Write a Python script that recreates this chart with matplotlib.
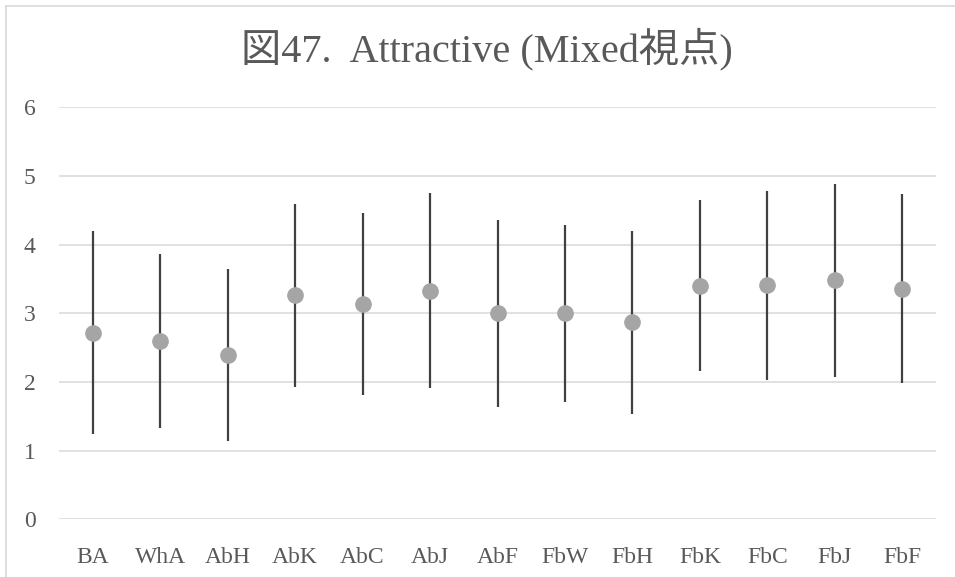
import matplotlib
matplotlib.use("Agg")
import matplotlib.pyplot as plt
from matplotlib.lines import Line2D

plt.rcParams['font.family'] = ['Liberation Serif', 'Noto Sans CJK JP', 'DejaVu Sans']

categories = ["BA", "WhA", "AbH", "AbK", "AbC", "AbJ", "AbF",
              "FbW", "FbH", "FbK", "FbC", "FbJ", "FbF"]
means = [2.72, 2.60, 2.39, 3.26, 3.13, 3.33, 3.00,
         3.00, 2.87, 3.40, 3.41, 3.48, 3.36]
sds = [1.48, 1.265, 1.255, 1.335, 1.325, 1.42, 1.36,
       1.285, 1.33, 1.245, 1.375, 1.40, 1.375]
y_ticks = [0, 1, 2, 3, 4, 5, 6]
title = "図47.  Attractive (Mixed視点)"

W, H = 955, 577
fig = plt.figure(figsize=(W / 100, H / 100), dpi=100)
ax = fig.add_axes([59 / W, 1 - 519.4 / H, (936 - 59) / W, (519.4 - 107.3) / H])

text_col = "#595959"
x = list(range(len(categories)))

ax.errorbar(x, means, yerr=sds, fmt="o", color="#a5a5a5", markersize=11,
            ecolor="#404040", elinewidth=1.6, capsize=0, zorder=3)

ax.set_xlim(-0.5, len(categories) - 0.5)
ax.set_ylim(0, 6)
ax.set_yticks(y_ticks)
ax.set_xticks(x)
ax.set_xticklabels(categories)
ax.grid(axis="y", color="#d9d9d9", linewidth=1.1)
ax.set_axisbelow(True)
for s in ax.spines.values():
    s.set_visible(False)
ax.tick_params(axis="both", length=0, labelsize=17, colors=text_col)
ax.tick_params(axis="y", pad=17)
ax.tick_params(axis="x", pad=20)

# chart-area outline (top and left edges)
fig.add_artist(Line2D([6 / W, 6 / W], [0, 1 - 6 / H], transform=fig.transFigure,
                      color="#d9d9d9", linewidth=1.2))
fig.add_artist(Line2D([6 / W, 1], [1 - 6 / H, 1 - 6 / H], transform=fig.transFigure,
                      color="#d9d9d9", linewidth=1.2))

fig.text(487 / W, 1 - 49 / H, title, ha="center", va="center",
         fontsize=29, color=text_col)

fig.savefig("out.png", dpi=100)
